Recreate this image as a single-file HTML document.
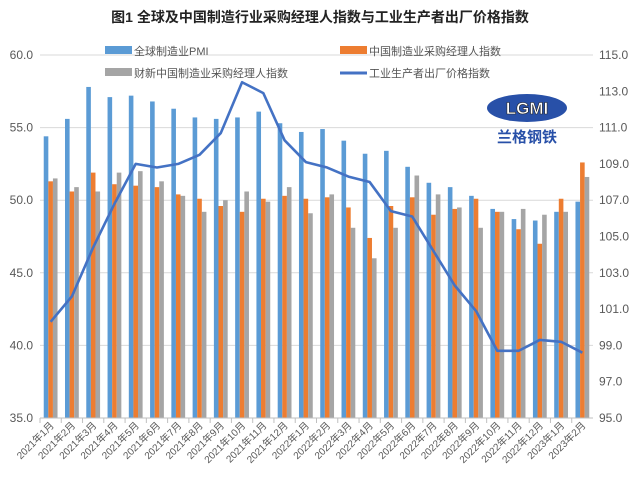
<!DOCTYPE html>
<html><head><meta charset="utf-8"><style>
body{margin:0;background:#fff;}
svg text{font-family:"Liberation Sans","Noto Sans CJK SC",sans-serif;}
</style></head><body>
<svg id="c" width="640" height="473" xmlns="http://www.w3.org/2000/svg">
<text x="320" y="22" text-anchor="middle" font-size="14" font-weight="bold" fill="#222">图1 全球及中国制造行业采购经理人指数与工业生产者出厂价格指数</text>
<g id="grid"></g><g id="bars"></g><g id="line"></g><g id="axes"></g>
<g>
<rect x="105" y="46" width="27" height="8" fill="#5b9bd5"/><text x="134" y="55" font-size="11" fill="#555">全球制造业PMI</text>
<rect x="105" y="68" width="27" height="8" fill="#a5a5a5"/><text x="134" y="77" font-size="11" fill="#555">财新中国制造业采购经理人指数</text>
<rect x="340" y="46" width="27" height="8" fill="#ed7d31"/><text x="369" y="55" font-size="11" fill="#555">中国制造业采购经理人指数</text>
<line x1="340" y1="73" x2="367" y2="73" stroke="#4472c4" stroke-width="3"/><text x="369" y="77" font-size="11" fill="#555">工业生产者出厂价格指数</text>
</g>
<g>
<ellipse cx="527" cy="108" rx="40" ry="14" fill="#2850a8"/>
<text x="527" y="114" text-anchor="middle" font-size="17" font-weight="bold" fill="#fff" stroke="#222" stroke-width="0.6">LGMI</text>
<text x="527" y="142" text-anchor="middle" font-size="15" font-weight="bold" fill="#2850a8">兰格钢铁</text>
</g>
</svg>
<script>
const cats=["2021年1月","2021年2月","2021年3月","2021年4月","2021年5月","2021年6月","2021年7月","2021年8月","2021年9月","2021年10月","2021年11月","2021年12月","2022年1月","2022年2月","2022年3月","2022年4月","2022年5月","2022年6月","2022年7月","2022年8月","2022年9月","2022年10月","2022年11月","2022年12月","2023年1月","2023年2月"];
const globalPmi=[54.4,55.6,57.8,57.1,57.2,56.8,56.3,55.7,55.6,55.7,56.1,55.3,54.7,54.9,54.1,53.2,53.4,52.3,51.2,50.9,50.3,49.4,48.7,48.6,49.2,49.9];
const chinaPmi=[51.3,50.6,51.9,51.1,51.0,50.9,50.4,50.1,49.6,49.2,50.1,50.3,50.1,50.2,49.5,47.4,49.6,50.2,49.0,49.4,50.1,49.2,48.0,47.0,50.1,52.6];
const caixin=[51.5,50.9,50.6,51.9,52.0,51.3,50.3,49.2,50.0,50.6,49.9,50.9,49.1,50.4,48.1,46.0,48.1,51.7,50.4,49.5,48.1,49.2,49.4,49.0,49.2,51.6];
const ppi=[100.3,101.7,104.4,106.8,109.0,108.8,109.0,109.5,110.7,113.5,112.9,110.3,109.1,108.8,108.3,108.0,106.4,106.1,104.2,102.3,100.9,98.7,98.7,99.3,99.2,98.6];
const leftTicks=[35,40,45,50,55,60];
const rightTicks=[95,97,99,101,103,105,107,109,111,113,115];
const NS="http://www.w3.org/2000/svg";
const X0=40,X1=593,YT=55,YB=418;
const bw=(X1-X0)/cats.length;
const yL=v=>YB-(v-35)/25*(YB-YT);
const yR=v=>YB-(v-95)/20*(YB-YT);
const xc=i=>X0+bw*(i+0.5);
function mk(t,a,p){const e=document.createElementNS(NS,t);for(const k in a)e.setAttribute(k,a[k]);p.appendChild(e);return e;}
const grid=document.getElementById('grid'),bars=document.getElementById('bars'),line=document.getElementById('line'),axes=document.getElementById('axes');
leftTicks.forEach(v=>{
 const l=mk('line',{x1:X0,x2:X1,y1:yL(v),y2:yL(v),stroke:'#d9d9d9','stroke-width':1},grid);
 
 
 const t=mk('text',{x:33,y:yL(v)+4,'text-anchor':'end','font-size':12,fill:'#595959'},axes);t.textContent=v.toFixed(1);
 
 
});
rightTicks.forEach(v=>{
 const t=mk('text',{x:599,y:yR(v)+4,'font-size':12,fill:'#595959'},axes);t.textContent=v.toFixed(1);
 
 
});
const w=4.6;
const series=[[globalPmi,'#5b9bd5','bar-global'],[chinaPmi,'#ed7d31','bar-china'],[caixin,'#a5a5a5','bar-caixin']];
cats.forEach((c,i)=>{
 series.forEach((s,k)=>{
  const x=xc(i)-1.5*w+k*w, y=yL(s[0][i]);
  const r=mk('rect',{x:x,y:y,width:w,height:YB-y,fill:s[1]},bars);
  
  
 });
 const tk=mk('line',{x1:X0+bw*i,x2:X0+bw*i,y1:YB,y2:YB+5,stroke:'#bfbfbf'},axes);
 
 
 const t=mk('text',{x:0,y:0,'text-anchor':'end','font-size':10,fill:'#595959',transform:`translate(${xc(i)+4},${YB+8}) rotate(-45)`},axes);
 t.textContent=c;
 
 
});
const ax=mk('line',{x1:X0,x2:X1,y1:YB,y2:YB,stroke:'#bfbfbf'},axes);


const p=mk('polyline',{points:ppi.map((v,i)=>xc(i)+','+yR(v)).join(' '),fill:'none',stroke:'#4472c4','stroke-width':2.6,'stroke-linejoin':'round'},line);


</script>
</body></html>
